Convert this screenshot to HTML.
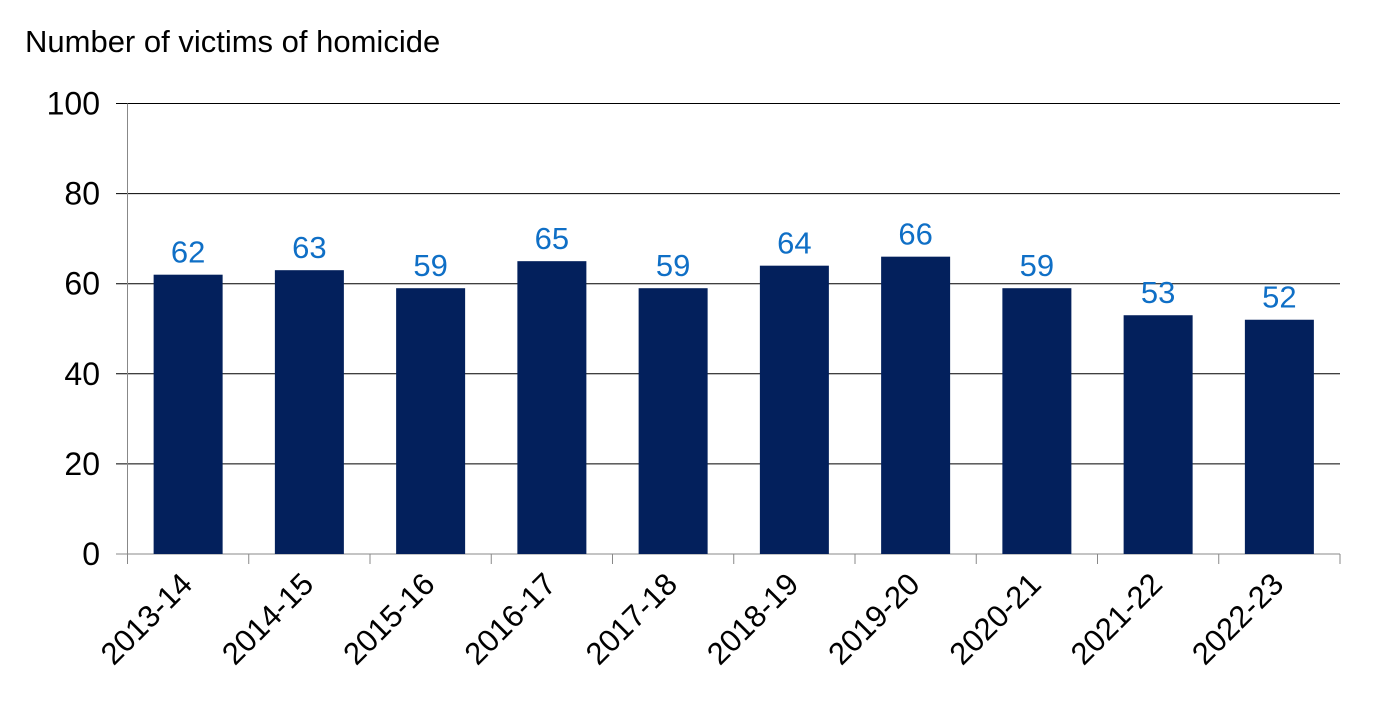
<!DOCTYPE html>
<html><head><meta charset="utf-8"><style>
html,body{margin:0;padding:0;background:#fff;}
svg{display:block;font-family:"Liberation Sans",Arial,sans-serif;}
</style></head><body>
<svg width="1382" height="726" viewBox="0 0 1382 726">
<text x="25" y="52" font-size="31" fill="#000">Number of victims of homicide</text>
<g id="grid"></g><g id="bars"></g><g id="labels"></g><g id="axes"></g>
</svg>
<script>
const categories=["2013-14","2014-15","2015-16","2016-17","2017-18","2018-19","2019-20","2020-21","2021-22","2022-23"];
const values=[62,63,59,65,59,64,66,59,53,52];
const yTicks=[0,20,40,60,80,100];
const NS="http://www.w3.org/2000/svg";
const x0=127.5,x1=1340,yTop=103.5,yBot=554;
const band=(x1-x0)/categories.length;
function y(v){return yBot-(v/100)*(yBot-yTop);}
function xc(i){return x0+band*(i+0.5);}
function mk(tag,attrs,parent){const e=document.createElementNS(NS,tag);for(const k in attrs)e.setAttribute(k,attrs[k]);document.getElementById(parent).appendChild(e);return e;}
yTicks.forEach(t=>{
  const l=mk('line',{x1:116,x2:x1,y1:y(t),y2:y(t),stroke:t===0?'#888':'#000','stroke-width':1},'grid');
  
  
  const tx=mk('text',{x:100,y:y(t)+11,'text-anchor':'end','font-size':32,fill:'#000'},'axes');
  tx.textContent=t;
  
  
});
const ya=mk('line',{x1:x0,x2:x0,y1:yTop,y2:564,stroke:'#888','stroke-width':1},'axes');


for(let i=0;i<=categories.length;i++){
  const tk=mk('line',{x1:x0+band*i,x2:x0+band*i,y1:yBot,y2:564,stroke:'#888','stroke-width':1},'axes');
  
  
}
const bw=69;
categories.forEach((c,i)=>{
  const v=values[i];
  const r=mk('rect',{x:xc(i)-bw/2,y:y(v),width:bw,height:yBot-y(v),fill:'#03205c'},'bars');
  
  
  const vl=mk('text',{x:xc(i),y:y(v)-12,'text-anchor':'middle','font-size':31,fill:'#0f6fc6'},'labels');
  vl.textContent=v;
  
  
  const cx=xc(i)+6,cy=586;
  const cl=mk('text',{x:cx,y:cy,'text-anchor':'end','font-size':31,fill:'#000',transform:`rotate(-45 ${cx} ${cy})`},'axes');
  cl.textContent=c;
  
  
});
</script>
</body></html>
